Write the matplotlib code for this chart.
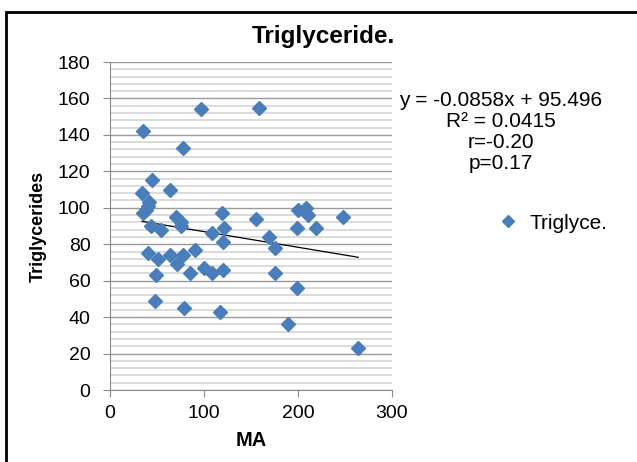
import numpy as np
import matplotlib.pyplot as plt
from matplotlib.lines import Line2D
from matplotlib.patches import Rectangle

plt.rcParams['font.family'] = ['Liberation Sans', 'DejaVu Sans']

# MA vs triglycerides
ma = [35, 97, 78, 45, 34, 64, 41, 40, 38, 35, 119, 70, 76, 75, 44, 54, 121, 109,
      158, 200, 209, 211, 248, 155, 199, 219, 169,
      120, 40, 51, 64, 78, 90, 71, 49, 85, 100, 109, 120, 48, 79, 117,
      176, 176, 199, 189, 264]
tg = [142, 154, 133, 115, 108, 110, 103, 101, 99, 97, 97, 95, 92, 90, 90, 88, 89, 86,
      155, 99, 100, 96, 95, 94, 89, 89, 84,
      81, 75, 72, 74, 74, 77, 69, 63, 64, 67, 64, 66, 49, 45, 43,
      78, 64, 56, 36, 23]

slope = -0.0858
intercept = 95.496
stats_text = "y = -0.0858x + 95.496\nR² = 0.0415\nr=-0.20\np=0.17"

fig = plt.figure(figsize=(6.37, 4.62), dpi=100)
ax = fig.add_axes([0.1727, 0.1558, 0.4427, 0.71])

# excel style gridlines
for yv in np.arange(0, 181, 4):
    if yv % 20 == 0:
        ax.axhline(yv, color='#9a9a9a', lw=1.0, zorder=1)
    else:
        ax.axhline(yv, color='#d4d4d4', lw=1.2, zorder=1)

ax.plot(ma, tg, linestyle='none', marker='D', ms=7, color='#4a7ebb',
        markeredgecolor='#4a7ebb', zorder=3)

xx = np.array([min(ma), max(ma)])
ax.plot(xx, slope * xx + intercept, color='black', lw=0.9, zorder=2)

ax.set_xlim(0, 300)
ax.set_ylim(0, 180)
ax.set_xticks([0, 100, 200, 300])
ax.set_yticks(np.arange(0, 181, 20))
for s in ['top', 'right']:
    ax.spines[s].set_visible(False)
for s in ['left', 'bottom']:
    ax.spines[s].set_color('#8a8a8a')
ax.tick_params(axis='both', colors='#8a8a8a', labelcolor='black', labelsize=14,
               length=5, direction='out')
ax.tick_params(axis='y', pad=9)
ax.tick_params(axis='x', pad=6)
ax.set_xlabel('MA', fontsize=14.5, fontweight='bold', labelpad=6)
ax.set_ylabel('Triglycerides', fontsize=13, fontweight='bold', labelpad=8)

fig.text(0.508, 0.921, 'Triglyceride.', ha='center', va='center',
         fontsize=17.5, fontweight='bold')
fig.text(0.786, 0.714, stats_text, ha='center', va='center', fontsize=15,
         linespacing=1.12)

handles = [Line2D([0], [0], linestyle='none', marker='D', ms=6, color='#4a7ebb')]
fig.legend(handles, ['Triglyce.'], loc='center left', bbox_to_anchor=(0.752, 0.517),
           frameon=False, fontsize=15, handletextpad=0.5, handlelength=1.0)

# outer frame
fig.patches.append(Rectangle((0.009, -0.05), 1.2, 1.025, transform=fig.transFigure,
                             fill=False, edgecolor='black', lw=2.0))

plt.savefig('out.png', dpi=100)
